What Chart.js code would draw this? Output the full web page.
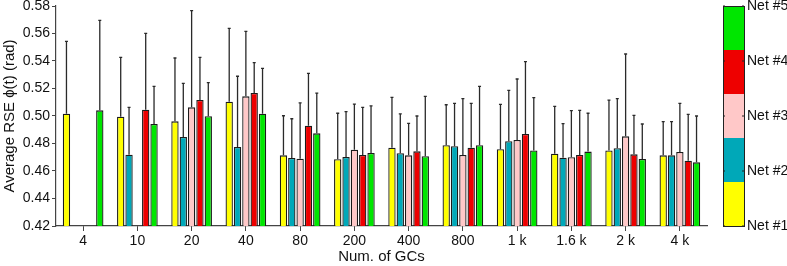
<!DOCTYPE html>
<html>
<head>
<meta charset="utf-8">
<script src="https://cdn.jsdelivr.net/npm/chart.js@4/dist/chart.umd.min.js"></script>
<style>
  html, body { margin: 0; padding: 0; background: #fff; }
  canvas { display: block; }
</style>
</head>
<body>
<canvas id="chart" width="787" height="266"></canvas>
<script>
// ## data ##
const categories = ["4", "10", "20", "40", "80", "200", "400", "800", "1 k", "1.6 k", "2 k", "4 k"];
const seriesNames = ["Net #1", "Net #2", "Net #3", "Net #4", "Net #5"];
const seriesColors = ["#FFFF00", "#00A8B8", "#FFC8C8", "#EE0000", "#00E600"];
const yTickValues = [0.42, 0.44, 0.46, 0.48, 0.5, 0.52, 0.54, 0.56, 0.58];

const net1 = [0.5017, 0.4995, 0.4961, 0.5104, 0.4714, 0.4685, 0.4770, 0.4787, 0.4758, 0.4726, 0.4750, 0.4714];
const net2 = [null, 0.4719, 0.4847, 0.4775, 0.4695, 0.4702, 0.4729, 0.4780, 0.4816, 0.4697, 0.4765, 0.4714];
const net3 = [null, null, 0.5063, 0.5143, 0.4690, 0.4755, 0.4714, 0.4716, 0.4826, 0.4700, 0.4852, 0.4738];
const net4 = [null, 0.5046, 0.5116, 0.5167, 0.4930, 0.4716, 0.4743, 0.4770, 0.4869, 0.4716, 0.4721, 0.4675];
const net5 = [0.5041, 0.4942, 0.4998, 0.5017, 0.4874, 0.4731, 0.4707, 0.4787, 0.4750, 0.4741, 0.4687, 0.4663];

// top of each error bar
const net1Upper = [0.5543, 0.5427, 0.5422, 0.5638, 0.5002, 0.5020, 0.5136, 0.5082, 0.5085, 0.5070, 0.5116, 0.4959];
const net2Upper = [null, 0.5063, 0.5238, 0.5289, 0.4980, 0.5032, 0.5015, 0.5092, 0.5187, 0.4944, 0.5126, 0.4959];
const net3Upper = [null, null, 0.5766, 0.5616, 0.5095, 0.5087, 0.4947, 0.5126, 0.5269, 0.5039, 0.5451, 0.5092];
const net4Upper = [null, 0.5601, 0.5427, 0.5388, 0.5310, 0.5063, 0.5000, 0.5092, 0.5395, 0.5041, 0.5005, 0.5012];
const net5Upper = [0.5696, 0.5216, 0.5243, 0.5347, 0.5167, 0.5073, 0.5143, 0.5216, 0.5133, 0.5020, 0.4942, 0.5000];

const values = [net1, net2, net3, net4, net5];
const uppers = [net1Upper, net2Upper, net3Upper, net4Upper, net5Upper];

const FONT = "'Liberation Sans', Arial, sans-serif";
Chart.defaults.font.family = FONT;
Chart.defaults.font.size = 14;
Chart.defaults.color = "#111";

// error bars: line from the bar top up to the upper value
const errorBars = {
  id: "errorBars",
  afterDatasetsDraw(chart) {
    const ctx = chart.ctx;
    const y = chart.scales.y;
    ctx.save();
    ctx.strokeStyle = "#2a2a2a";
    ctx.lineWidth = 1.3;
    chart.data.datasets.forEach((ds, di) => {
      const meta = chart.getDatasetMeta(di);
      meta.data.forEach((bar, i) => {
        const top = ds.upper[i];
        if (ds.data[i] == null || top == null) return;
        const y0 = y.getPixelForValue(ds.data[i]);
        const y1 = y.getPixelForValue(top);
        ctx.beginPath();
        ctx.moveTo(bar.x, y0);
        ctx.lineTo(bar.x, y1);
        ctx.moveTo(bar.x - 1.5, y1);
        ctx.lineTo(bar.x + 1.5, y1);
        ctx.stroke();
      });
    });
    ctx.restore();
  },
};

// colorbar style legend on the right
const colorBar = {
  id: "colorBar",
  afterDraw(chart) {
    const ctx = chart.ctx;
    const area = chart.chartArea;
    const left = 723, w = 21;
    const top = area.top, bottom = area.bottom;
    const n = chart.data.datasets.length;
    const seg = (bottom - top) / n;
    ctx.save();
    chart.data.datasets.forEach((ds, i) => {
      ctx.fillStyle = ds.backgroundColor;
      ctx.fillRect(left, bottom - seg * (i + 1), w, seg);
    });
    ctx.strokeStyle = "#222";
    ctx.lineWidth = 1;
    ctx.strokeRect(left + 0.5, top + 0.5, w, bottom - top);
    const step = (bottom - top) / (n - 1);
    ctx.fillStyle = "#111";
    ctx.font = "14px " + FONT;
    ctx.textAlign = "left";
    ctx.textBaseline = "middle";
    chart.data.datasets.forEach((ds, i) => {
      const yy = bottom - step * i;
      ctx.beginPath();
      ctx.moveTo(left, yy); ctx.lineTo(left + 2, yy);
      ctx.moveTo(left + w, yy); ctx.lineTo(left + w - 2, yy);
      ctx.stroke();
      ctx.fillText(ds.label, left + w + 3, yy);
    });
    ctx.restore();
  },
};

const datasets = seriesNames.map((name, i) => ({
  label: name,
  data: values[i],
  upper: uppers[i],
  backgroundColor: seriesColors[i],
  borderColor: "#1a1a1a",
  borderWidth: 1.3,
  borderSkipped: "bottom",
  categoryPercentage: 0.768,
  barPercentage: 0.88,
}));

new Chart(document.getElementById("chart"), {
  type: "bar",
  data: { labels: categories, datasets: datasets },
  options: {
    responsive: false,
    animation: false,
    layout: { padding: { top: 6, right: 80, left: 0, bottom: 0 } },
    plugins: {
      legend: { display: false },
      tooltip: { enabled: false },
    },
    scales: {
      x: {
        grid: { display: true, offset: false, drawOnChartArea: false, drawTicks: true, tickLength: 5, color: "#444" },
        border: { display: true, color: "#444", width: 1.2 },
        ticks: { color: "#111", padding: 2, maxRotation: 0, autoSkip: false },
        title: { display: true, text: "Num. of GCs", color: "#111", font: { size: 15 }, padding: { top: 0, bottom: 0 } },
        afterFit(scale) { scale.height = 40; scale.paddingLeft = 0; scale.paddingRight = 0; },
      },
      y: {
        min: 0.42,
        max: 0.58,
        afterBuildTicks(scale) { scale.ticks = yTickValues.map((v) => ({ value: v })); },
        grid: { display: true, drawOnChartArea: false, drawTicks: true, tickLength: 4, color: "#444" },
        border: { display: true, color: "#444", width: 1.2 },
        ticks: { color: "#111", padding: 2 },
        title: { display: true, text: "Average RSE \u03D5(t) (rad)", color: "#111", font: { size: 15 }, padding: { top: 1, bottom: 0 } },
        afterFit(scale) { scale.width = 56; scale.paddingTop = 0; scale.paddingBottom = 0; },
      },
    },
  },
  plugins: [errorBars, colorBar],
});
</script>
</body>
</html>
